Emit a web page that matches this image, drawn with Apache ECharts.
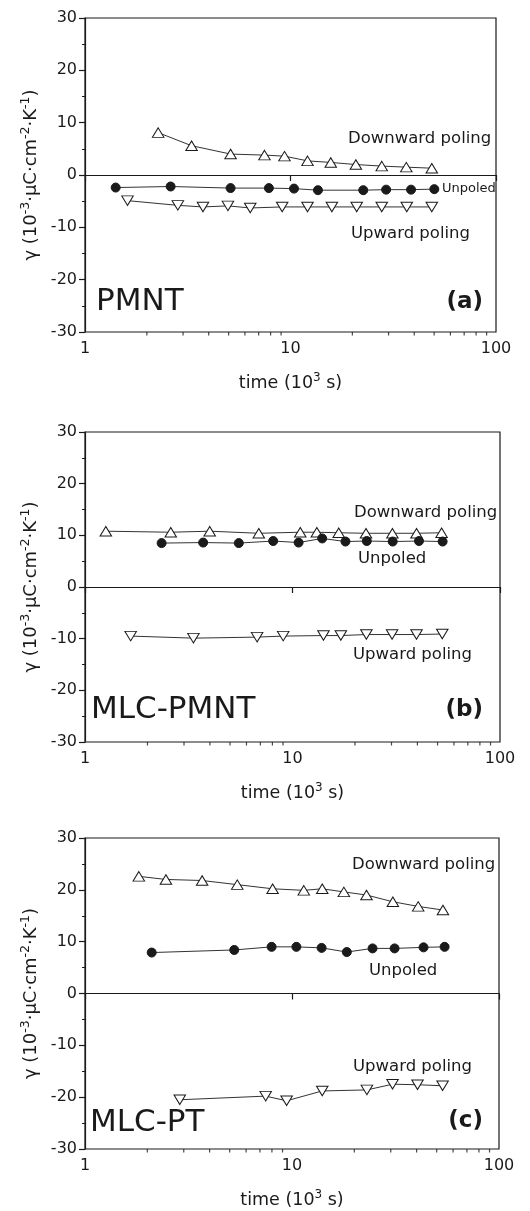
<!DOCTYPE html>
<html>
<head>
<meta charset="utf-8">
<script src="https://cdn.jsdelivr.net/npm/echarts@6/dist/echarts.min.js"></script>
<style>
  html, body { margin: 0; padding: 0; background: #fff; }
  #chart { width: 530px; height: 1211px; }
</style>
</head>
<body>
<div id="chart"></div>
<script>
// Pyroelectric coefficient versus time (log scale), three samples.
// time in 10^3 s, gamma in 10^-3 uC cm^-2 K^-1

// (a) PMNT
const timeA_down = [2.27, 3.30, 5.11, 7.47, 9.35, 12.1, 15.7, 20.8, 27.8, 36.6, 48.7];
const gammaA_down = [8.1, 5.6, 4.0, 3.8, 3.6, 2.7, 2.4, 2.0, 1.7, 1.5, 1.3];
const timeA_unp = [1.41, 2.61, 5.11, 7.85, 10.4, 13.6, 22.6, 29.2, 38.6, 50.1];
const gammaA_unp = [-2.4, -2.2, -2.5, -2.5, -2.6, -2.9, -2.9, -2.8, -2.8, -2.7];
const timeA_up = [1.61, 2.83, 3.75, 4.96, 6.37, 9.11, 12.1, 15.9, 21.0, 27.8, 36.8, 48.7];
const gammaA_up = [-4.9, -5.8, -6.1, -5.9, -6.3, -6.1, -6.1, -6.1, -6.1, -6.1, -6.1, -6.1];

// (b) MLC-PMNT
const timeB_down = [1.26, 2.59, 3.99, 6.88, 10.9, 13.1, 16.7, 22.6, 30.3, 39.6, 52.3];
const gammaB_down = [10.8, 10.6, 10.8, 10.4, 10.6, 10.6, 10.5, 10.4, 10.4, 10.4, 10.5];
const timeB_unp = [2.34, 3.71, 5.51, 8.07, 10.7, 13.9, 18.0, 22.8, 30.4, 40.7, 52.9];
const gammaB_unp = [8.5, 8.6, 8.5, 8.9, 8.6, 9.4, 8.8, 8.9, 8.8, 8.9, 8.8];
const timeB_up = [1.66, 3.33, 6.75, 9.02, 14.1, 17.1, 22.7, 30.2, 39.6, 52.7];
const gammaB_up = [-9.5, -9.9, -9.7, -9.5, -9.4, -9.4, -9.2, -9.2, -9.2, -9.1];

// (c) MLC-PT
const timeC_down = [1.82, 2.46, 3.68, 5.44, 8.06, 11.4, 14.0, 17.8, 22.9, 30.7, 40.7, 53.6];
const gammaC_down = [22.6, 22.0, 21.8, 21.0, 20.2, 19.9, 20.2, 19.6, 19.0, 17.7, 16.8, 16.1];
const timeC_unp = [2.10, 5.26, 7.97, 10.5, 13.9, 18.4, 24.5, 31.3, 43.2, 54.6];
const gammaC_unp = [7.9, 8.4, 9.0, 9.0, 8.8, 8.0, 8.7, 8.7, 8.9, 9.0];
const timeC_up = [2.87, 7.46, 9.42, 14.0, 23.0, 30.6, 40.4, 53.4];
const gammaC_up = [-20.5, -19.8, -20.7, -18.8, -18.6, -17.5, -17.6, -17.8];

// axis settings
const timeMin = 1, timeMax = 100;
const gammaMin = -30, gammaMax = 30, gammaStep = 10;
const minorTimeTicks = [2, 3, 4, 5, 6, 7, 8, 9, 20, 30, 40, 50, 60, 70, 80, 90];

const panels = [
  { name: 'PMNT', tag: '(a)',
    down: [timeA_down, gammaA_down], unp: [timeA_unp, gammaA_unp], up: [timeA_up, gammaA_up] },
  { name: 'MLC-PMNT', tag: '(b)',
    down: [timeB_down, gammaB_down], unp: [timeB_unp, gammaB_unp], up: [timeB_up, gammaB_up] },
  { name: 'MLC-PT', tag: '(c)',
    down: [timeC_down, gammaC_down], unp: [timeC_unp, gammaC_unp], up: [timeC_up, gammaC_up] }
];

const FONT = 'DejaVu Sans';
const INK = '#1a1a1a';

const gridBoxes = [
  { left: 85, top: 18, width: 411, height: 314 },
  { left: 85, top: 432, width: 415, height: 310 },
  { left: 85, top: 838, width: 414, height: 311 }
];

function zip(xs, ys) { return xs.map((x, i) => [x, ys[i]]); }

const grids = [], xAxes = [], yAxes = [], series = [];

gridBoxes.forEach((g, i) => {
  grids.push(Object.assign({ show: true, borderColor: INK, borderWidth: 1.2, backgroundColor: 'transparent' }, g));

  xAxes.push({
    type: 'log', logBase: 10, gridIndex: i, min: timeMin, max: timeMax,
    name: '{n|time (10}{s|3}{n| s)}',
    nameLocation: 'middle', nameGap: 40,
    nameTextStyle: {
      rich: {
        n: { fontFamily: FONT, fontSize: 17.5, color: INK, lineHeight: 20, verticalAlign: 'bottom' },
        s: { fontFamily: FONT, fontSize: 12, color: INK, lineHeight: 12, verticalAlign: 'top' }
      }
    },
    axisLine: { show: true, lineStyle: { color: INK, width: 1.2 } },
    axisTick: { show: true, length: 6, lineStyle: { color: INK, width: 1.2 } },
    axisLabel: { fontFamily: FONT, fontSize: 16, color: INK, margin: 9 },
    splitLine: { show: false }
  });

  yAxes.push({
    type: 'value', gridIndex: i, min: gammaMin, max: gammaMax, interval: gammaStep,
    name: '{n|γ (10}{s|-3}{n|·μC·cm}{s|-2}{n|·K}{s|-1}{n|)}',
    nameLocation: 'middle', nameGap: 45,
    nameTextStyle: {
      rich: {
        n: { fontFamily: FONT, fontSize: 18, color: INK, lineHeight: 21, verticalAlign: 'bottom' },
        s: { fontFamily: FONT, fontSize: 12.5, color: INK, lineHeight: 12, verticalAlign: 'top' }
      }
    },
    axisLine: { show: true, lineStyle: { color: INK, width: 1.2 } },
    axisTick: { show: true, length: 6, lineStyle: { color: INK, width: 1.2 } },
    minorTick: { show: true, splitNumber: 2, length: 3, lineStyle: { color: INK, width: 1 } },
    axisLabel: { fontFamily: FONT, fontSize: 16, color: INK, margin: 8 },
    splitLine: { show: false },
    minorSplitLine: { show: false }
  });

  const p = panels[i];
  const lineStyle = { color: '#333', width: 1 };

  series.push({
    type: 'line', xAxisIndex: i, yAxisIndex: i, data: zip(p.down[0], p.down[1]),
    symbol: 'triangle', symbolSize: [11.5, 9.5],
    itemStyle: { color: '#fff', borderColor: INK, borderWidth: 1 },
    lineStyle: lineStyle, z: 3,
    markLine: {
      silent: true, symbol: ['none', 'none'], label: { show: false },
      lineStyle: { color: INK, width: 1.2, type: 'solid' },
      data: [{ yAxis: 0 }]
    }
  });
  series.push({
    type: 'line', xAxisIndex: i, yAxisIndex: i, data: zip(p.unp[0], p.unp[1]),
    symbol: 'circle', symbolSize: 9,
    itemStyle: { color: INK, borderColor: INK, borderWidth: 1 },
    lineStyle: lineStyle, z: 3
  });
  series.push({
    type: 'line', xAxisIndex: i, yAxisIndex: i, data: zip(p.up[0], p.up[1]),
    symbol: 'triangle', symbolRotate: 180, symbolSize: [11.5, 9.5],
    itemStyle: { color: '#fff', borderColor: INK, borderWidth: 1 },
    lineStyle: lineStyle, z: 3
  });
  // minor ticks of the logarithmic time axis
  series.push({
    type: 'scatter', xAxisIndex: i, yAxisIndex: i, silent: true, clip: false,
    data: minorTimeTicks.map(t => [t, gammaMin]),
    symbol: 'rect', symbolSize: [1.2, 3.5], symbolOffset: [0, 1.75],
    itemStyle: { color: INK }, z: 5
  });
});

// panel annotations
function label(text, x, y, size, opts) {
  return Object.assign({
    type: 'text', x: x, y: y, silent: true,
    style: { text: text, fontFamily: FONT, fontSize: size, fill: INK, align: 'left', verticalAlign: 'middle' }
  }, opts || {});
}
function tag(text, x, y) {
  const el = label(text, x, y, 23);
  el.style.fontWeight = 'bold';
  el.style.align = 'right';
  return el;
}

const graphics = [
  label('Downward poling', 348, 139, 16.5),
  label('Unpoled', 442, 189, 13),
  label('Upward poling', 351, 234, 16.5),
  label('PMNT', 96, 302, 31),
  tag('(a)', 483, 302),

  label('Downward poling', 354, 513, 16.5),
  label('Unpoled', 358, 559, 16.5),
  label('Upward poling', 353, 655, 16.5),
  label('MLC-PMNT', 91, 710, 31),
  tag('(b)', 483, 710),

  label('Downward poling', 352, 865, 16.5),
  label('Unpoled', 369, 971, 16.5),
  label('Upward poling', 353, 1067, 16.5),
  label('MLC-PT', 90, 1123, 31),
  tag('(c)', 483, 1121)
];

const chart = echarts.init(document.getElementById('chart'), null, { renderer: 'canvas' });
chart.setOption({
  animation: false,
  backgroundColor: '#fff',
  grid: grids,
  xAxis: xAxes,
  yAxis: yAxes,
  series: series,
  graphic: graphics
});
</script>
</body>
</html>
